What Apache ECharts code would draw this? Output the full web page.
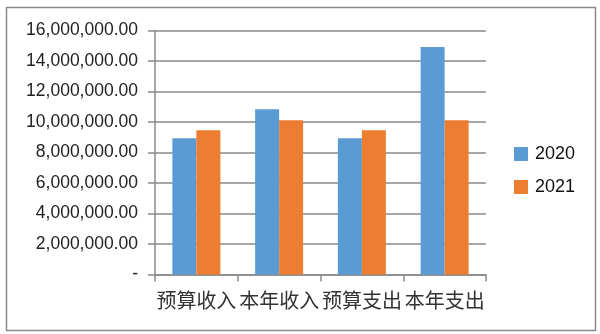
<!DOCTYPE html>
<html><head><meta charset="utf-8">
<script src="https://cdn.jsdelivr.net/npm/echarts@6/dist/echarts.min.js"></script>
<style>html,body{margin:0;padding:0;background:#fff}#c{width:600px;height:334px}</style>
</head><body><div id="c"></div>
<script>
const categories = ['预算收入', '本年收入', '预算支出', '本年支出'];
const seriesNames = ['2020', '2021'];
const values2020 = [8940000, 10840000, 8940000, 14920000];
const values2021 = [9460000, 10120000, 9460000, 10120000];
const yMin = 0, yMax = 16000000, yInterval = 2000000;

function fmt(v) {
  if (v === 0) return '-';
  const s = v.toFixed(2);
  const [i, d] = s.split('.');
  return i.replace(/\B(?=(\d{3})+(?!\d))/g, ',') + '.' + d;
}

const chart = echarts.init(document.getElementById('c'), null, {renderer: 'canvas'});
chart.setOption({
  animation: false,
  backgroundColor: '#fff',
  graphic: [{
    type: 'rect', shape: {x: 6.5, y: 7.5, width: 589, height: 323},
    style: {fill: 'none', stroke: '#8a8a8a', lineWidth: 1.5}, z: -1
  }],
  grid: {left: 155, right: 114, top: 30.5, bottom: 59.5},
  legend: {
    orient: 'vertical', left: 509, top: 139,
    itemWidth: 14, itemHeight: 14, itemGap: 13,
    icon: 'rect',
    textStyle: {fontFamily: 'Liberation Sans, Arial', fontSize: 18, color: '#111', lineHeight: 20, padding: [0, 0, 0, 2]},
    data: seriesNames
  },
  xAxis: {
    type: 'category', data: categories,
    axisLine: {show: true, lineStyle: {color: '#8a8a8a', width: 1.5}},
    axisTick: {show: true, length: 7, lineStyle: {color: '#8a8a8a', width: 1.5}},
    axisLabel: {margin: 16, fontFamily: 'Noto Sans CJK SC', fontSize: 20, color: '#333', interval: 0}
  },
  yAxis: {
    type: 'value', min: yMin, max: yMax, interval: yInterval,
    axisLine: {show: true, lineStyle: {color: '#8a8a8a', width: 1.5}},
    axisTick: {show: true, length: 7, lineStyle: {color: '#8a8a8a', width: 1.5}},
    splitLine: {show: true, lineStyle: {color: '#8a8a8a', width: 1.5}},
    axisLabel: {margin: 17, fontFamily: 'Liberation Sans, Arial', fontSize: 17.5, color: '#222', formatter: fmt}
  },
  series: [
    {name: seriesNames[0], type: 'bar', data: values2020, barGap: '0%', barCategoryGap: '42%', itemStyle: {color: '#5B9BD5'}},
    {name: seriesNames[1], type: 'bar', data: values2021, barGap: '0%', barCategoryGap: '42%', itemStyle: {color: '#ED7D31'}}
  ]
});
</script>
</body></html>
